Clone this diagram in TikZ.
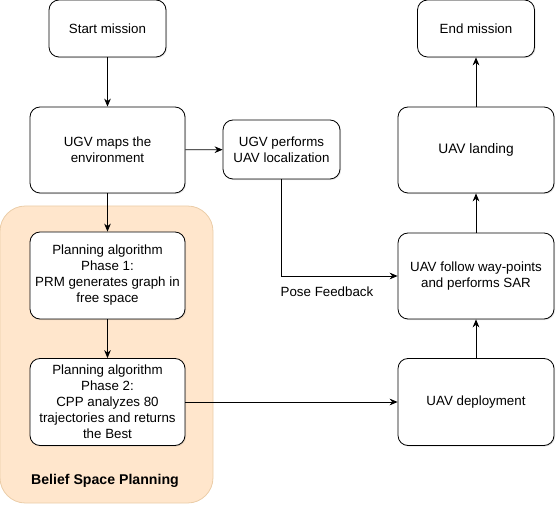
\documentclass[tikz,border=0pt]{standalone}
\usepackage{fontspec}
\setmainfont{Liberation Sans}
\usepackage{xcolor}
\usepackage{tikz}
\usetikzlibrary{arrows.meta,shadows}

\definecolor{bspfill}{HTML}{FFE6CC}
\definecolor{bspline}{HTML}{EBCDA8}

\tikzset{
  block/.style={draw=black, line width=0.6pt, fill=white, rounded corners=7.5pt,
    align=center, font=\fontsize{10}{12}\selectfont, inner sep=1pt,
    drop shadow={opacity=0.2, shadow xshift=0.8pt, shadow yshift=-0.8pt}},
  flow/.style={-{Stealth[length=6pt,width=5pt]}, line width=0.6pt}
}

\begin{document}
\begin{tikzpicture}[x=0.75pt, y=-0.75pt]
    \useasboundingbox (0,0) rectangle (556,530);
    % belief space planning area
    \draw [bspline, fill=bspfill, rounded corners=19pt, line width=0.6pt] (0,206) rectangle (213,503);
    \node (bsp) at (105,481) {\fontsize{10.6}{12}\selectfont\bfseries Belief Space Planning};

    % left column
    \node [block, minimum width=87.75pt, minimum height=42.75pt] (start) at (107.5,28.5) {Start mission};
    \node [block, minimum width=116.25pt, minimum height=64.5pt] (maps) at (107.5,150) {UGV maps the\\environment};
    \node [block, minimum width=87.75pt, minimum height=44.25pt] (locate) at (281.5,149.5) {UGV performs\\UAV localization};
    \node [block, minimum width=116.25pt, minimum height=65.25pt] (phaseone) at (107.5,275.5) {Planning algorithm\\Phase 1:\\PRM generates graph in\\free space};
    \node [block, minimum width=116.25pt, minimum height=65.25pt] (phasetwo) at (107.5,402) {Planning algorithm\\Phase 2:\\CPP analyzes 80\\trajectories and returns\\the Best};

    % right column
    \node [block, minimum width=87.75pt, minimum height=42.75pt] (finish) at (476,28.5) {End mission};
    \node [block, minimum width=117pt, minimum height=64.5pt, font=\fontsize{10.3}{12}\selectfont] (landing) at (476,150) {UAV landing};
    \node [block, minimum width=117pt, minimum height=64.5pt] (follow) at (476,276) {UAV follow way-points\\and performs SAR};
    \node [block, minimum width=117pt, minimum height=65.25pt] (deploy) at (476,402) {UAV deployment};

    % arrows
    \draw [flow] (start) -- (maps);
    \draw [flow] (maps) -- (locate);
    \draw [flow] (maps) -- (phaseone);
    \draw [flow] (phaseone) -- (phasetwo);
    \draw [flow] (phasetwo) -- (deploy);
    \draw [flow] (deploy) -- (follow);
    \draw [flow] (follow) -- (landing);
    \draw [flow] (landing) -- (finish);
    \draw [flow] (locate.south) |- (follow.west);
    \node [font=\fontsize{10}{12}\selectfont, inner sep=1pt] (pose) at (327,292) {Pose Feedback};
\end{tikzpicture}
\end{document}
